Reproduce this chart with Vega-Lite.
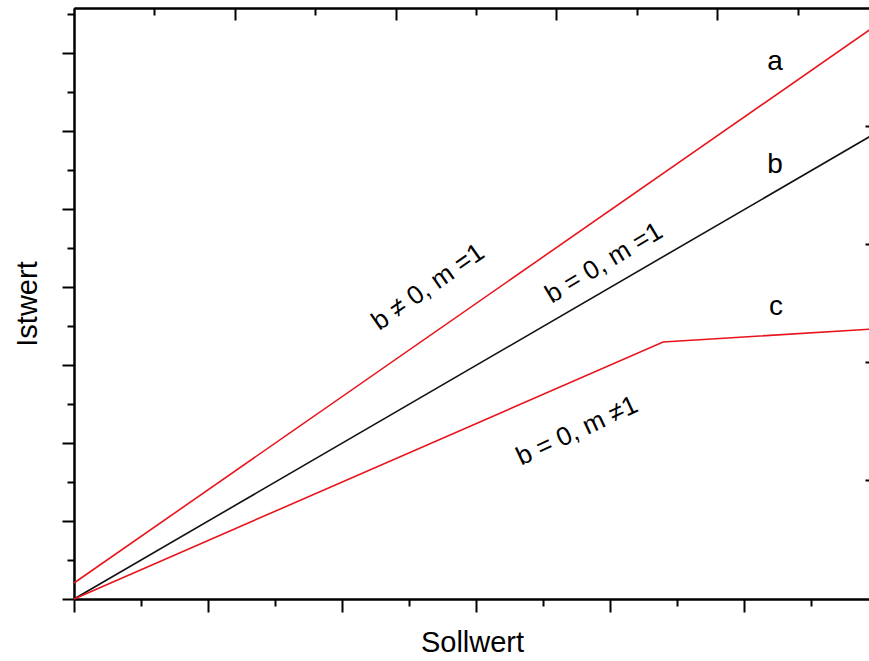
{
  "$schema": "https://vega.github.io/schema/vega-lite/v6.json",
  "width": 796,
  "height": 591,
  "autosize": "none",
  "padding": {"left": 74, "top": 8, "right": 0, "bottom": 62},
  "background": "white",
  "config": {
    "view": {"stroke": null},
    "font": "Liberation Sans",
    "axis": {
      "labels": false,
      "grid": false,
      "domainColor": "black",
      "domainWidth": 2,
      "tickColor": "black",
      "tickWidth": 2,
      "titleFont": "Liberation Sans",
      "titleFontWeight": "normal",
      "titleColor": "black",
      "titleFontSize": 29
    }
  },
  "datasets": {
    "lines": [
      {"series": "a", "x": 0, "y": 0.205},
      {"series": "a", "x": 5.94, "y": 7.3},
      {"series": "b", "x": 0, "y": 0},
      {"series": "b", "x": 5.94, "y": 5.93},
      {"series": "c", "x": 0, "y": 0},
      {"series": "c", "x": 4.396, "y": 3.295},
      {"series": "c", "x": 5.94, "y": 3.46}
    ],
    "letters": [
      {"label": "a", "x": 5.231, "y": 6.885},
      {"label": "b", "x": 5.231, "y": 5.564},
      {"label": "c", "x": 5.239, "y": 3.744}
    ],
    "note1": [{"label": "b ≠ 0, m =1", "x": 2.642, "y": 4.0}],
    "note2": [{"label": "b = 0, m =1", "x": 3.955, "y": 4.308}],
    "note3": [{"label": "b = 0, m ≠1", "x": 3.754, "y": 2.154}]
  },
  "resolve": {"axis": {"x": "independent", "y": "independent"}},
  "layer": [
    {
      "data": {"name": "lines"},
      "mark": {"type": "line", "strokeWidth": 1.6},
      "encoding": {
        "x": {
          "field": "x", "type": "quantitative",
          "scale": {"domain": [0, 5.94], "nice": false, "zero": false},
          "axis": {"orient": "bottom", "values": [0, 1, 2, 3, 4, 5], "tickSize": 13, "title": "Sollwert", "titlePadding": 15}
        },
        "y": {
          "field": "y", "type": "quantitative",
          "scale": {"domain": [0, 7.577], "nice": false, "zero": false},
          "axis": {"orient": "left", "values": [0, 1, 2, 3, 4, 5, 6, 7], "tickSize": 12, "title": "Istwert", "titlePadding": 19}
        },
        "color": {
          "field": "series", "type": "nominal",
          "scale": {"domain": ["a", "b", "c"], "range": ["#e8141c", "#111111", "#e8141c"]},
          "legend": null
        }
      }
    },
    {
      "data": {"name": "letters"},
      "mark": {"type": "text", "fontSize": 28, "align": "center", "baseline": "middle", "color": "black"},
      "encoding": {
        "x": {
          "field": "x", "type": "quantitative",
          "scale": {"domain": [0, 5.94], "nice": false, "zero": false},
          "axis": {"orient": "bottom", "values": [0.5, 1.5, 2.5, 3.5, 4.5, 5.5], "tickSize": 7, "title": null}
        },
        "y": {
          "field": "y", "type": "quantitative",
          "scale": {"domain": [0, 7.577], "nice": false, "zero": false},
          "axis": {"orient": "left", "values": [0.5, 1.5, 2.5, 3.5, 4.5, 5.5, 6.5, 7.5], "tickSize": 7, "title": null}
        },
        "text": {"field": "label"}
      }
    },
    {
      "data": {"name": "note1"},
      "mark": {"type": "text", "fontSize": 26, "align": "center", "baseline": "middle", "angle": 325, "color": "black"},
      "encoding": {
        "x": {
          "field": "x", "type": "quantitative",
          "scale": {"domain": [0, 5.94], "nice": false, "zero": false},
          "axis": {"orient": "top", "values": [1.2, 2.4, 3.6, 4.8], "tickSize": -12, "title": null}
        },
        "y": {
          "field": "y", "type": "quantitative",
          "scale": {"domain": [0, 7.577], "nice": false, "zero": false},
          "axis": {"orient": "right", "values": [1.526, 3.04, 4.55, 6.06], "tickSize": -5, "domain": false, "title": null}
        },
        "text": {"field": "label"}
      }
    },
    {
      "data": {"name": "note2"},
      "mark": {"type": "text", "fontSize": 26, "align": "center", "baseline": "middle", "angle": 329, "color": "black"},
      "encoding": {
        "x": {
          "field": "x", "type": "quantitative",
          "scale": {"domain": [0, 5.94], "nice": false, "zero": false},
          "axis": {"orient": "top", "values": [0.6, 1.8, 3.0, 4.2, 5.4], "tickSize": -7, "title": null}
        },
        "y": {
          "field": "y", "type": "quantitative",
          "scale": {"domain": [0, 7.577], "nice": false, "zero": false},
          "axis": null
        },
        "text": {"field": "label"}
      }
    },
    {
      "data": {"name": "note3"},
      "mark": {"type": "text", "fontSize": 26, "align": "center", "baseline": "middle", "angle": 335, "color": "black"},
      "encoding": {
        "x": {
          "field": "x", "type": "quantitative",
          "scale": {"domain": [0, 5.94], "nice": false, "zero": false},
          "axis": null
        },
        "y": {
          "field": "y", "type": "quantitative",
          "scale": {"domain": [0, 7.577], "nice": false, "zero": false},
          "axis": null
        },
        "text": {"field": "label"}
      }
    }
  ]
}
